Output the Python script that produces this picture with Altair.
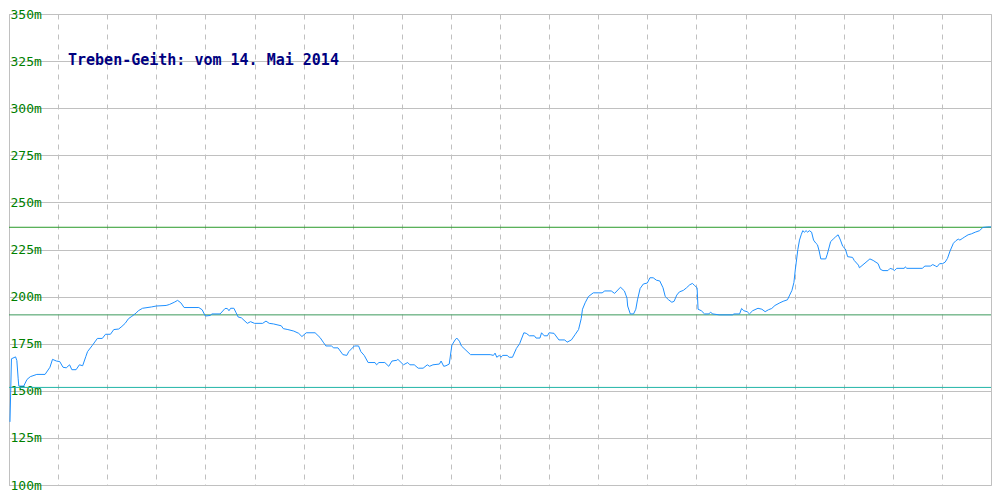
import altair as alt
import pandas as pd

# distance along profile (arbitrary units 0..1000) and elevation in m
dist = [1, 2.5, 6.7, 8, 9.3, 10, 15, 18.3, 21.7, 28.3, 36.7, 41.7, 44.3, 48.3, 51.7, 55, 58.3, 61.7, 64, 68.3,
        71.7, 75, 78.3, 80, 85, 90, 95, 98.3, 103.3, 106.7, 111.7, 115, 118.3, 121.7, 125, 129.3, 131.7, 136, 145, 150,
        160, 163.3, 168.3, 171.7, 175, 178.3, 193.3, 196.7, 199.3, 200, 205, 206.7, 215, 220, 222.3, 224, 225.7, 229, 231, 233.3,
        236.7, 242.7, 246, 250, 258.3, 261.7, 265, 269.3, 277.3, 279.3, 284, 290, 295, 298.3, 302.7, 311.7, 316.7, 320, 322.7, 328.3,
        330.7, 335, 340, 344, 346, 351.7, 356, 358.3, 361.7, 365.7, 372.7, 374.3, 376.7, 382.7, 386.7, 390, 395, 396, 401.7, 406,
        408.3, 412.7, 416.7, 421.7, 426, 428.3, 431.7, 438.3, 440, 442.7, 445, 448.3, 451, 454.3, 456, 458.7, 460.7, 470, 490, 493.3,
        495, 496.7, 499.3, 501, 502.7, 507.3, 509.3, 512.7, 516.7, 520, 524.3, 526.7, 530, 535, 536.7, 540.7, 542.3, 545, 548.3, 550,
        555, 560, 566, 568.3, 572.7, 576.7, 580, 582.7, 584, 586.7, 590, 595, 604, 606.7, 613.3, 616.7, 622.7, 626.7, 629.3, 630,
        632.7, 636, 638.3, 640, 642.7, 646, 650, 652.7, 656, 659.3, 662.7, 666, 668.3, 671.7, 675, 677.3, 680, 682.7, 686.7, 690,
        693.3, 696, 698.3, 700.7, 701.7, 705, 708.3, 712.7, 714.3, 716.7, 723.3, 736.7, 738.3, 744, 746, 748.3, 751.7, 754, 757.3, 762.7,
        766.7, 770, 773.3, 776.7, 780, 785, 788.3, 792.7, 795, 797.3, 799.3, 800.7, 801.7, 803.3, 805, 806.7, 808.3, 810, 811.7, 813.3,
        815, 817.3, 819.3, 821.7, 823.3, 825, 826.7, 831.7, 833.3, 836.7, 839.3, 841.7, 844.3, 846.7, 849, 851.7, 854, 859, 860.7, 865,
        866, 871.7, 876.7, 880, 885, 887.3, 890, 895, 897.3, 900, 901.7, 904, 911.7, 912.7, 914.3, 930, 932.7, 938.3, 940.7, 943.3,
        945, 947.7, 950.7, 953.3, 955.7, 958.3, 961.7, 964.3, 966.7, 968.3, 970.7, 973.3, 976.7, 980, 984, 988.3, 991.7, 996.7, 1000]
elev = [133.5, 167, 168, 166, 156.7, 152.5, 152.5, 156, 157.5, 158.7, 158.7, 162.5, 166.7, 165.8, 165.5, 162.5, 162.2, 163.8, 161.2, 161.2,
        163.8, 163.3, 168.3, 170.8, 174.2, 177.8, 177.8, 180, 180, 182.5, 182.8, 184.2, 185.8, 188.3, 189.5, 191.2, 192.5, 193.8, 194.5, 195,
        195.3, 195.8, 197, 198, 196.7, 194.2, 194.2, 193, 190.3, 189.7, 190, 190.8, 190.8, 193.7, 193.7, 192.5, 193.8, 193.8, 191.7, 189.2,
        188.7, 185.8, 186.7, 185.8, 185.8, 187, 185.8, 185.5, 184.5, 183, 182.5, 181.7, 180.5, 178.8, 180.8, 180.8, 178.3, 175.8, 173.8, 173.8,
        172.8, 172.8, 169.2, 168.8, 170.8, 173.8, 173.8, 170.8, 168.8, 165, 165, 163.8, 165, 165, 163, 165.8, 166.2, 166.7, 163.8, 165,
        163.8, 163.8, 162, 162, 163.8, 163, 163.8, 164.2, 165.8, 163, 163.3, 164.2, 174.2, 177, 178, 176.3, 173.8, 169.2, 169.2, 168.8,
        170, 167.8, 168.8, 167.8, 168.8, 168.8, 167.8, 167.8, 172.5, 175, 180.8, 180.5, 179.2, 179.2, 178, 178, 180.8, 179.2, 179.2, 180.8,
        180.5, 177, 177, 175.8, 177, 180, 182.5, 188.3, 193.3, 196.7, 200, 202, 202, 203, 203, 201.7, 205, 203, 199.2, 195,
        190.8, 190.8, 193.3, 198.3, 204.3, 206.7, 207.2, 210, 210, 208.7, 208.3, 204.7, 200, 198.3, 197, 197.5, 200.8, 202.5, 203.3, 204.7,
        206.3, 207, 205.8, 204.7, 193.3, 192.5, 190.8, 190.8, 191.7, 190.8, 190.3, 190.3, 190.8, 190.8, 193.7, 192.5, 192, 190.8, 192.5, 193.8,
        193.3, 192, 193, 193.7, 195.3, 196.7, 197.5, 198.3, 200.8, 203.3, 207.5, 214.2, 218.3, 225, 230, 232.8, 235, 234.2, 235, 234.2,
        235, 234.2, 230, 228.3, 227.5, 224.2, 220, 220, 222.5, 229.2, 230.5, 231.7, 232.8, 230, 226.7, 225.3, 221.2, 220.8, 219.2, 216.7,
        215.3, 217.8, 220, 219.2, 217.5, 214.5, 213.8, 213.8, 215, 214.5, 213.8, 215, 215, 215.8, 215, 215, 216.2, 216.2, 217, 216.3,
        215.8, 217.5, 217.5, 218.3, 220.3, 224.2, 228.3, 229.7, 230.5, 230, 230.8, 231.7, 232.8, 233.3, 234.2, 235, 236.7, 237, 237]

ref_names = ["max", "avg", "min"]
ref_values = [236.8, 190.3, 151.8]
ref_colors = ["#2a9a2a", "#3c9a5c", "#22b5a8"]

y_ticks = [100, 125, 150, 175, 200, 225, 250, 275, 300, 325, 350]
x_grid = [50, 100, 150, 200, 250, 300, 350, 400, 450, 500, 550, 600, 650, 700, 750, 800, 850, 900, 950]
title_text = "Treben-Geith: vom 14. Mai 2014"

profile = pd.DataFrame({"dist": dist, "elev": elev})
refs = pd.DataFrame({"name": ref_names, "value": ref_values, "color": ref_colors})

xscale = alt.Scale(domain=[0, 1000], nice=False, zero=False)
yscale = alt.Scale(domain=[100, 350], nice=False, zero=False)

line = alt.Chart(profile).mark_line(color="#1e90ff", strokeWidth=1, clip=True).encode(
    x=alt.X("dist:Q", scale=xscale,
            axis=alt.Axis(values=x_grid, labels=False, ticks=False, domain=False, title=None,
                          grid=True, gridColor="#c0c0c0", gridDash=[5, 5], gridWidth=1)),
    y=alt.Y("elev:Q", scale=yscale,
            axis=alt.Axis(values=y_ticks, labelExpr="datum.value + 'm'", title=None,
                          ticks=False, tickSize=0, labelPadding=-1, labelAlign="left",
                          labelBaseline="middle", labelFlush=True, labelColor="#008000",
                          labelFont="DejaVu Sans Mono", labelFontSize=13,
                          domain=True, domainColor="#c0c0c0", domainWidth=1,
                          grid=True, gridColor="#c0c0c0", gridWidth=1, zindex=0)),
)

rules = alt.Chart(refs).mark_rule(strokeWidth=1).encode(
    y=alt.Y("value:Q", scale=yscale),
    color=alt.Color("color:N", scale=None),
)

title = alt.Chart(pd.DataFrame({"t": [title_text]})).mark_text(
    align="left", baseline="alphabetic", font="DejaVu Sans Mono", fontSize=15,
    fontWeight="bold", color="#000080"
).encode(x=alt.value(59), y=alt.value(51), text="t:N")

chart = alt.layer(rules, line, title).properties(
    width=984, height=484,
    autosize=alt.AutoSizeParams(type="fit", contains="padding"),
    padding=0,
    background="white",
).configure_view(stroke="#c0c0c0", strokeWidth=1)

chart.save("out.html", embed_options={"renderer": "svg", "actions": False})
